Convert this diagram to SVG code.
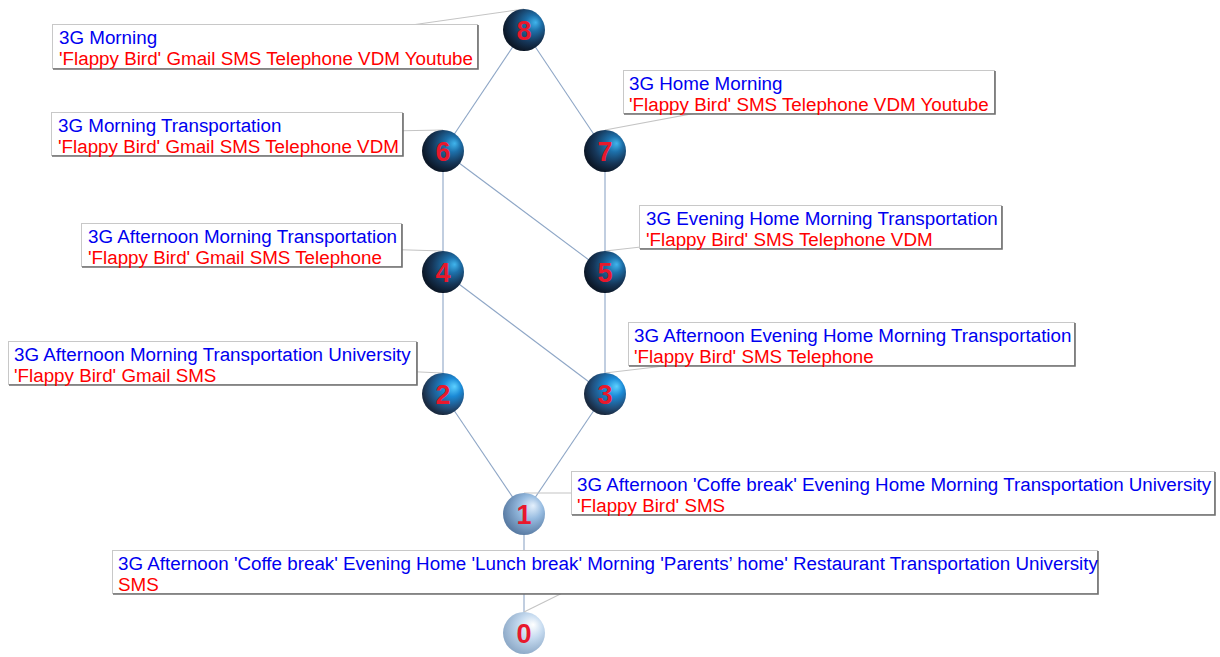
<svg xmlns="http://www.w3.org/2000/svg" width="1220" height="657" viewBox="0 0 1220 657">
<style>
.bg{fill:#ffffff}
.edge{stroke:#8ea6c6;stroke-width:1.1;fill:none}
.lead{stroke:#c4c4c4;stroke-width:1.1;fill:none}
.box{fill:#ffffff;stroke:#c8c8c8;stroke-width:1}
.shadow{fill:none;stroke:#6e6e6e;stroke-width:1.6}
.t1{font-family:"Liberation Sans",Arial,sans-serif;font-size:18.8px;fill:#0000f0}
.t2{font-family:"Liberation Sans",Arial,sans-serif;font-size:18.8px;fill:#ff0000}
.num{font-family:"Liberation Sans",Arial,sans-serif;font-size:27px;font-weight:bold;fill:#e8182c;text-anchor:middle}
</style>
<defs>
<radialGradient id="gDark" cx="0.62" cy="0.38" r="0.62" fx="0.78" fy="0.32">
<stop offset="0" stop-color="#40b4ec"/>
<stop offset="0.3" stop-color="#1d70aa"/>
<stop offset="0.7" stop-color="#163658"/>
<stop offset="1" stop-color="#0c1828"/>
</radialGradient>
<radialGradient id="gMid" cx="0.62" cy="0.38" r="0.62" fx="0.78" fy="0.32">
<stop offset="0" stop-color="#5cd0ff"/>
<stop offset="0.35" stop-color="#1b8ad6"/>
<stop offset="0.75" stop-color="#21507e"/>
<stop offset="1" stop-color="#1a2a40"/>
</radialGradient>
<radialGradient id="gLight" cx="0.6" cy="0.4" r="0.62" fx="0.72" fy="0.3">
<stop offset="0" stop-color="#e4f0fc"/>
<stop offset="0.45" stop-color="#96bbe0"/>
<stop offset="1" stop-color="#587aa2"/>
</radialGradient>
<radialGradient id="gPale" cx="0.6" cy="0.4" r="0.62" fx="0.72" fy="0.3">
<stop offset="0" stop-color="#ffffff"/>
<stop offset="0.45" stop-color="#c6dbf0"/>
<stop offset="1" stop-color="#8eaac8"/>
</radialGradient>
</defs>
<rect class="bg" x="0" y="0" width="1220" height="657"/>

<g id="connectors">
<line class="edge" x1="524" y1="30" x2="443" y2="151"/>
<line class="edge" x1="524" y1="30" x2="605" y2="151"/>
<line class="edge" x1="443" y1="151" x2="443" y2="272"/>
<line class="edge" x1="443" y1="151" x2="605" y2="272"/>
<line class="edge" x1="605" y1="151" x2="605" y2="272"/>
<line class="edge" x1="443" y1="272" x2="443" y2="394"/>
<line class="edge" x1="443" y1="272" x2="605" y2="394"/>
<line class="edge" x1="605" y1="272" x2="605" y2="394"/>
<line class="edge" x1="443" y1="394" x2="524" y2="514"/>
<line class="edge" x1="605" y1="394" x2="524" y2="514"/>
<line class="edge" x1="524" y1="514" x2="524" y2="633"/>
<line class="lead" x1="524" y1="9" x2="264" y2="46"/>
<line class="lead" x1="605" y1="130" x2="809" y2="92"/>
<line class="lead" x1="443" y1="130" x2="227" y2="134"/>
<line class="lead" x1="605" y1="251" x2="820" y2="227"/>
<line class="lead" x1="443" y1="251" x2="241" y2="245"/>
<line class="lead" x1="605" y1="373" x2="851" y2="344"/>
<line class="lead" x1="443" y1="373" x2="212" y2="363"/>
<line class="lead" x1="524" y1="493" x2="893" y2="493"/>
<line class="lead" x1="524" y1="612" x2="605" y2="572"/>
</g>

<g id="node8">
<rect class="box" x="52.5" y="24.5" width="425" height="44"/>
<polyline class="shadow" points="478,25 478,69 53,69"/>
<text class="t1" x="59" y="43.5">3G Morning</text>
<text class="t2" x="59" y="64.5">'Flappy Bird' Gmail SMS Telephone VDM Youtube</text>
<circle cx="524" cy="30" r="21" fill="url(#gDark)"/>
<text class="num" x="524" y="39.5">8</text>
</g>

<g id="node7">
<rect class="box" x="623.5" y="70.5" width="371" height="43"/>
<polyline class="shadow" points="995,71 995,114 624,114"/>
<text class="t1" x="629" y="89.5">3G Home Morning</text>
<text class="t2" x="629" y="110.5">'Flappy Bird' SMS Telephone VDM Youtube</text>
<circle cx="605" cy="151" r="21" fill="url(#gDark)"/>
<text class="num" x="605" y="160.5">7</text>
</g>

<g id="node6">
<rect class="box" x="51.5" y="112.5" width="351" height="43"/>
<polyline class="shadow" points="403,113 403,156 52,156"/>
<text class="t1" x="58" y="131.5">3G Morning Transportation</text>
<text class="t2" x="58" y="152.5">'Flappy Bird' Gmail SMS Telephone VDM</text>
<circle cx="443" cy="151" r="21" fill="url(#gDark)"/>
<text class="num" x="443" y="160.5">6</text>
</g>

<g id="node5">
<rect class="box" x="639.5" y="205.5" width="362" height="43"/>
<polyline class="shadow" points="1002,206 1002,249 640,249"/>
<text class="t1" x="646" y="224.5">3G Evening Home Morning Transportation</text>
<text class="t2" x="646" y="245.5">'Flappy Bird' SMS Telephone VDM</text>
<circle cx="605" cy="272" r="21" fill="url(#gDark)"/>
<text class="num" x="605" y="281.5">5</text>
</g>

<g id="node4">
<rect class="box" x="81.5" y="223.5" width="320" height="43"/>
<polyline class="shadow" points="402,224 402,267 82,267"/>
<text class="t1" x="88" y="242.5">3G Afternoon Morning Transportation</text>
<text class="t2" x="88" y="263.5">'Flappy Bird' Gmail SMS Telephone</text>
<circle cx="443" cy="272" r="21" fill="url(#gDark)"/>
<text class="num" x="443" y="281.5">4</text>
</g>

<g id="node3">
<rect class="box" x="628.5" y="322.5" width="446" height="43"/>
<polyline class="shadow" points="1075,323 1075,366 629,366"/>
<text class="t1" x="634" y="341.5">3G Afternoon Evening Home Morning Transportation</text>
<text class="t2" x="634" y="362.5">'Flappy Bird' SMS Telephone</text>
<circle cx="605" cy="394" r="21" fill="url(#gMid)"/>
<text class="num" x="605" y="403.5">3</text>
</g>

<g id="node2">
<rect class="box" x="8.5" y="341.5" width="408" height="43"/>
<polyline class="shadow" points="417,342 417,385 9,385"/>
<text class="t1" x="14" y="360.5">3G Afternoon Morning Transportation University</text>
<text class="t2" x="14" y="381.5">'Flappy Bird' Gmail SMS</text>
<circle cx="443" cy="394" r="21" fill="url(#gMid)"/>
<text class="num" x="443" y="403.5">2</text>
</g>

<g id="node1">
<rect class="box" x="571.5" y="471.5" width="643" height="43"/>
<polyline class="shadow" points="1215,472 1215,515 572,515"/>
<text class="t1" x="577" y="490.5">3G Afternoon 'Coffe break' Evening Home Morning Transportation University</text>
<text class="t2" x="577" y="511.5">'Flappy Bird' SMS</text>
<circle cx="524" cy="514" r="21" fill="url(#gLight)"/>
<text class="num" x="524" y="523.5">1</text>
</g>

<g id="node0">
<rect class="box" x="112.5" y="550.5" width="985" height="43"/>
<polyline class="shadow" points="1098,551 1098,594 113,594"/>
<text class="t1" x="118" y="569.5">3G Afternoon 'Coffe break' Evening Home 'Lunch break' Morning 'Parents’ home' Restaurant Transportation University</text>
<text class="t2" x="118" y="590.5">SMS</text>
<circle cx="524" cy="633" r="21" fill="url(#gPale)"/>
<text class="num" x="524" y="642.5">0</text>
</g>
</svg>
